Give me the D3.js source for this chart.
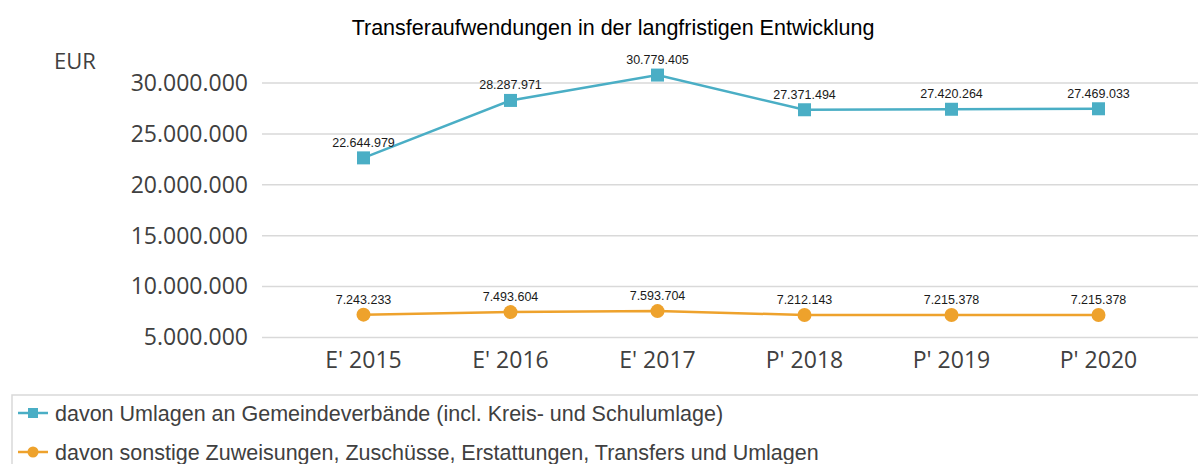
<!DOCTYPE html>
<html>
<head>
<meta charset="utf-8">
<script src="https://cdn.jsdelivr.net/npm/d3@7"></script>
<style>
  body { margin: 0; background: #fff; }
  svg { display: block; }
</style>
</head>
<body>
<div id="chart"></div>
<script>
const categories = ["E' 2015", "E' 2016", "E' 2017", "P' 2018", "P' 2019", "P' 2020"]
const umlagen = [22644979, 28287971, 30779405, 27371494, 27420264, 27469033]
const sonstige = [7243233, 7493604, 7593704, 7212143, 7215378, 7215378]
const yTicks = [5000000, 10000000, 15000000, 20000000, 25000000, 30000000]
const seriesNames = [
  'davon Umlagen an Gemeindeverbände (incl. Kreis- und Schulumlage)',
  'davon sonstige Zuweisungen, Zuschüsse, Erstattungen, Transfers und Umlagen'
]

const width = 1198
const height = 464
const plot = { left: 262, right: 1198, top: 83, bottom: 337.5 }
const teal = '#4aaec5'
const orange = '#eea22c'
const fmt = d3.formatLocale({ decimal: ',', thousands: '.', grouping: [3], currency: ['', ' €'] }).format(',d')

const svg = d3.select('#chart')
  .append('svg')
  .attr('width', width)
  .attr('height', height)

const xScale = d3.scaleBand()
  .domain(categories)
  .range([290, 1172])
const yScale = d3.scaleLinear()
  .domain([5000000, 30000000])
  .range([plot.bottom, plot.top])
const cx = d => xScale(d) + xScale.bandwidth() / 2

// title + unit
svg.append('text')
  .attr('x', 613)
  .attr('y', 35)
  .attr('text-anchor', 'middle')
  .attr('font-family', 'Liberation Sans, Arial, sans-serif')
  .attr('font-size', 21.5)
  .attr('fill', '#000')
  .text('Transferaufwendungen in der langfristigen Entwicklung')

svg.append('text')
  .attr('x', 54)
  .attr('y', 69)
  .attr('font-family', 'Open Sans, sans-serif')
  .attr('font-size', 22)
  .attr('fill', '#404040')
  .text('EUR')

// gridlines
svg.append('g')
  .selectAll('line')
  .data(yTicks)
  .enter()
  .append('line')
  .attr('x1', plot.left)
  .attr('x2', plot.right)
  .attr('y1', d => yScale(d))
  .attr('y2', d => yScale(d))
  .attr('stroke', '#d9d9d9')
  .attr('stroke-width', 1.5)

// y axis
const yAxis = d3.axisLeft(yScale)
  .tickValues(yTicks)
  .tickFormat(fmt)
  .tickSize(0)
  .tickPadding(14)
const gy = svg.append('g')
  .attr('transform', `translate(${plot.left}, 0)`)
  .call(yAxis)
gy.select('.domain').remove()
gy.selectAll('text')
  .attr('font-family', 'Open Sans, sans-serif')
  .attr('font-size', 23)
  .attr('fill', '#404040')

// x axis
const xAxis = d3.axisBottom(xScale).tickSize(0).tickPadding(14)
const gx = svg.append('g')
  .attr('transform', `translate(0, ${plot.bottom})`)
  .call(xAxis)
gx.select('.domain').remove()
gx.selectAll('text')
  .attr('font-family', 'Open Sans, sans-serif')
  .attr('font-size', 23)
  .attr('fill', '#404040')

const line = d3.line()
  .x((d, i) => cx(categories[i]))
  .y(d => yScale(d))

function drawSeries(values, color, shape) {
  const g = svg.append('g')
  g.append('path')
    .datum(values)
    .attr('d', line)
    .attr('fill', 'none')
    .attr('stroke', color)
    .attr('stroke-width', 2.5)

  if (shape === 'square') {
    g.selectAll('rect')
      .data(values)
      .enter()
      .append('rect')
      .attr('x', (d, i) => cx(categories[i]) - 6.5)
      .attr('y', d => yScale(d) - 6.5)
      .attr('width', 13)
      .attr('height', 13)
      .attr('fill', color)
  } else {
    g.selectAll('circle')
      .data(values)
      .enter()
      .append('circle')
      .attr('cx', (d, i) => cx(categories[i]))
      .attr('cy', d => yScale(d))
      .attr('r', 7)
      .attr('fill', color)
  }

  g.selectAll('text')
    .data(values)
    .enter()
    .append('text')
    .attr('x', (d, i) => cx(categories[i]))
    .attr('y', d => yScale(d) - 11)
    .attr('text-anchor', 'middle')
    .attr('font-family', 'Liberation Sans, Arial, sans-serif')
    .attr('font-size', 12.5)
    .attr('fill', '#1a1a1a')
    .text(d => fmt(d))
}

drawSeries(umlagen, teal, 'square')
drawSeries(sonstige, orange, 'circle')

// legend
const legend = svg.append('g')
legend.append('rect')
  .attr('x', 12)
  .attr('y', 395)
  .attr('width', 1200)
  .attr('height', 100)
  .attr('fill', 'none')
  .attr('stroke', '#d9d9d9')
  .attr('stroke-width', 1.5)

const items = legend.selectAll('g')
  .data(seriesNames)
  .enter()
  .append('g')
  .attr('transform', (d, i) => `translate(18, ${413 + i * 39})`)

items.append('line')
  .attr('x1', 0)
  .attr('x2', 30)
  .attr('stroke', (d, i) => i === 0 ? teal : orange)
  .attr('stroke-width', 2.5)
items.each(function (d, i) {
  const s = d3.select(this)
  if (i === 0) {
    s.append('rect').attr('x', 10).attr('y', -5).attr('width', 10).attr('height', 10).attr('fill', teal)
  } else {
    s.append('circle').attr('cx', 15).attr('r', 5.5).attr('fill', orange)
  }
})
items.append('text')
  .attr('x', 37)
  .attr('y', 7.5)
  .attr('font-family', 'Liberation Sans, Arial, sans-serif')
  .attr('font-size', 21.5)
  .attr('fill', '#404040')
  .text(d => d)
</script>
</body>
</html>
